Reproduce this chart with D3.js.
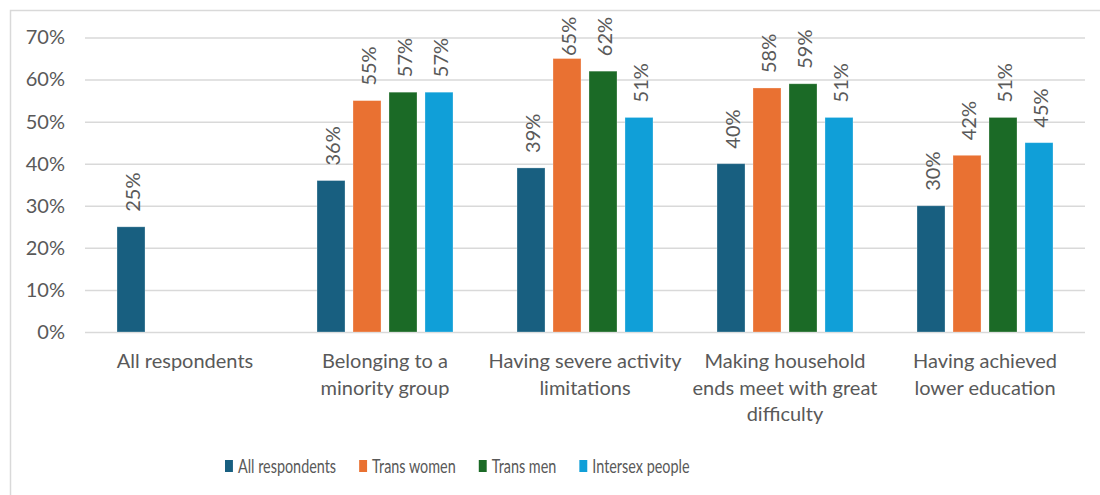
<!DOCTYPE html>
<html>
<head>
<meta charset="utf-8">
<script src="https://cdn.jsdelivr.net/npm/d3@7"></script>
<style>
  html, body { margin: 0; padding: 0; background: #ffffff; }
  svg { display: block; }
  text { font-family: Lato, "Open Sans", sans-serif; fill: #595959; }
</style>
</head>
<body>
<svg id="chart" width="1100" height="495"></svg>
<script>
// Share of respondents per group (fractions)
const categories = [
  "All respondents",
  "Belonging to a minority group",
  "Having severe activity limitations",
  "Making household ends meet with great difficulty",
  "Having achieved lower education"
];
// Wrapped lines for the category axis labels
const categoryLines = [
  ["All respondents"],
  ["Belonging to a", "minority group"],
  ["Having severe activity", "limitations"],
  ["Making household", "ends meet with great", "difficulty"],
  ["Having achieved", "lower education"]
];
const seriesNames = ["All respondents", "Trans women", "Trans men", "Intersex people"];
const allRespondents = [0.25, 0.36, 0.39, 0.40, 0.30];
const transWomen     = [null, 0.55, 0.65, 0.58, 0.42];
const transMen       = [null, 0.57, 0.62, 0.59, 0.51];
const intersexPeople = [null, 0.57, 0.51, 0.51, 0.45];
const yTicks = [0, 0.1, 0.2, 0.3, 0.4, 0.5, 0.6, 0.7];

const seriesValues = [allRespondents, transWomen, transMen, intersexPeople];
const colors = ["#185F80", "#E97132", "#1B6A26", "#109FD8"];

const svg = d3.select("#chart");

// Outer frame of the chart area
svg.append("rect")
  .attr("x", 10.5).attr("y", 10.5)
  .attr("width", 1100).attr("height", 500)
  .attr("fill", "none")
  .attr("stroke", "#D9D9D9")
  .attr("stroke-width", 1.5);

const plot = { left: 85, right: 1085, top: 37.5, bottom: 332 };

const y = d3.scaleLinear().domain([0, 0.7]).range([plot.bottom, plot.top]);
const x0 = d3.scaleBand().domain(categories).range([plot.left, plot.right]).padding(0);
const x1 = d3.scaleBand().domain(seriesNames).range([0, x0.bandwidth()])
  .paddingInner(0.222).paddingOuter(0.889);

// Horizontal gridlines with percentage labels
const yAxis = d3.axisLeft(y)
  .tickValues(yTicks)
  .tickFormat(d3.format(".0%"))
  .tickSize(-(plot.right - plot.left))
  .tickPadding(20);

const gy = svg.append("g")
  .attr("transform", `translate(${plot.left},0)`)
  .call(yAxis);
gy.select(".domain").remove();
gy.selectAll(".tick line").attr("stroke", "#D9D9D9").attr("stroke-width", 1.5);
gy.selectAll(".tick text")
  .attr("font-size", 20)
  .attr("fill", "#595959")
  .style("font-family", "Lato, sans-serif");

// Flatten to one record per bar
const bars = [];
categories.forEach((c, i) => {
  seriesNames.forEach((s, j) => {
    const v = seriesValues[j][i];
    if (v !== null) bars.push({ category: c, series: s, value: v, color: colors[j] });
  });
});

const groups = svg.append("g");
groups.selectAll("rect.bar")
  .data(bars)
  .join("rect")
  .attr("class", "bar")
  .attr("x", d => x0(d.category) + x1(d.series))
  .attr("y", d => y(d.value))
  .attr("width", x1.bandwidth())
  .attr("height", d => y(0) - y(d.value))
  .attr("fill", d => d.color)
  .attr("stroke", "#ffffff")
  .attr("stroke-opacity", 0.35)
  .attr("stroke-width", 0.8);

// Value labels, rotated, kept inside the top of the chart
const fmt = d3.format(".0%");
const labelGap = 15;
const labelLen = 39;
const minTop = 17;
groups.selectAll("text.value")
  .data(bars)
  .join("text")
  .attr("class", "value")
  .attr("font-size", 20)
  .attr("dominant-baseline", "central")
  .attr("text-anchor", "start")
  .attr("transform", d => {
    const cx = x0(d.category) + x1(d.series) + x1.bandwidth() / 2 + 1;
    const yb = Math.max(y(d.value) - labelGap, minTop + labelLen);
    return `translate(${cx},${yb}) rotate(-90)`;
  })
  .text(d => fmt(d.value));

// Category labels under the axis
const catG = svg.append("g");
catG.selectAll("text.cat")
  .data(categories)
  .join("text")
  .attr("class", "cat")
  .attr("text-anchor", "middle")
  .attr("font-size", 20)
  .each(function (d, i) {
    const t = d3.select(this);
    categoryLines[i].forEach((line, k) => {
      t.append("tspan")
        .attr("x", x0(d) + x0.bandwidth() / 2)
        .attr("y", 368 + k * 26.5)
        .text(line);
    });
  });

// Legend (horizontally condensed)
const legend = svg.append("g")
  .attr("transform", "translate(225,0) scale(0.72,1)");
let lx = 0;
seriesNames.forEach((s, j) => {
  legend.append("rect")
    .attr("x", lx).attr("y", 460)
    .attr("width", 11).attr("height", 12)
    .attr("fill", colors[j]);
  const t = legend.append("text")
    .attr("x", lx + 18).attr("y", 473)
    .attr("font-size", 20)
    .text(s);
  lx += 18 + t.node().getComputedTextLength() + 32;
});
</script>
</body>
</html>
